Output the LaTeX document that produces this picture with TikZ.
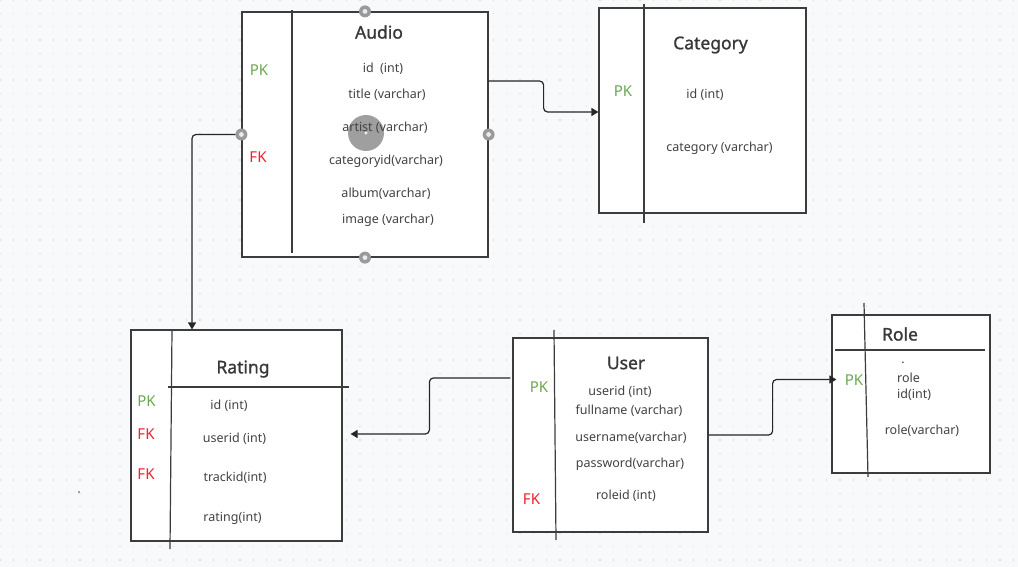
\documentclass[tikz,border=0pt]{standalone}
\usepackage{fontspec}
\setmainfont{Noto Sans}
\newfontfamily\titlefont[FakeBold=1.2]{Noto Sans}
\usepackage{xcolor}
\usetikzlibrary{positioning,arrows.meta}
\definecolor{bgcol}{HTML}{F8F9FB}
\definecolor{dotcol}{HTML}{D9DBE1}
\definecolor{boxline}{HTML}{3C3C3C}
\definecolor{txtcol}{HTML}{424242}
\definecolor{pkgreen}{HTML}{6AA84F}
\definecolor{fkred}{HTML}{F0202D}
\definecolor{handle}{HTML}{9A9A9A}

\begin{document}
\begin{tikzpicture}[x=1pt,y=-1pt]
\tikzstyle{every node}+=[inner sep=0pt]
\tikzstyle{tbl}=[draw=boxline,fill=white,line width=1.2pt,rectangle]
\tikzstyle{divider}=[draw=boxline,line width=1.2pt]
\tikzstyle{title}=[text=txtcol!85!black,font=\titlefont\fontsize{17.5}{20}\selectfont]
\tikzstyle{attr}=[text=txtcol,yshift=-1pt,font=\fontsize{12.5}{16}\selectfont]
\tikzstyle{pk}=[text=pkgreen,font=\fontsize{15}{18}\selectfont]
\tikzstyle{fk}=[text=fkred,font=\fontsize{15}{18}\selectfont]
\tikzstyle{conn}=[draw=black!85,line width=1.2pt,rounded corners=4pt,-{Triangle[length=7pt,width=8pt]}]
\tikzstyle{griddot}=[fill=dotcol]
\tikzstyle{hdl}=[fill=handle]
\useasboundingbox (0,0) rectangle (1018,567);
\fill[bgcol] (0,0) rectangle (1018,567);
\foreach \i in {0,...,76}
  \foreach \j in {0,...,42}
    \fill[griddot] (\i*13.333-0.8,\j*13.333-0.8) rectangle ++(1.6,1.6);
\fill[black!70] (79,492) circle (0.9);
\node[tbl,minimum width=246pt,minimum height=245pt] (audio) at (365,134.5) {};
\node[tbl,minimum width=207pt,minimum height=205pt] (category) at (702.5,110.5) {};
\node[tbl,minimum width=211pt,minimum height=211pt] (rating) at (236.5,435.5) {};
\node[tbl,minimum width=195pt,minimum height=194pt] (user) at (610.5,435) {};
\node[tbl,minimum width=158pt,minimum height=158pt] (role) at (911,394) {};
\draw[divider] (292,10) -- (292,253);
\draw[divider] (644,4) -- (644,223);
\draw[divider] (172,330) -- (170,549);
\draw[divider] (168,387) -- (349,387);
\draw[divider] (554,330) -- (556,540);
\draw[divider] (864,303) -- (868,477);
\draw[divider] (835,350) -- (985,350);
\fill[handle!95] (366,133) circle (18);
\fill[white!85!handle] (366,133) circle (1.6);
\node[title] (audiot) at (379,32) {Audio};
\node[pk] (audiopk) at (259,70) {PK};
\node[fk] (audiofk) at (258,157) {FK};
\node[attr] (audioid) at (383,68) {id\ \ (int)};
\node[attr] (audiotitle) at (387,94) {title (varchar)};
\node[attr] (audioartist) at (385,127) {artist (varchar)};
\node[attr] (audiocat) at (386,160) {categoryid(varchar)};
\node[attr] (audioalbum) at (386,193) {album(varchar)};
\node[attr] (audioimage) at (388,219) {image (varchar)};
\node[title] (categoryt) at (710.5,45) {Category};
\node[pk] (categorypk) at (623,91) {PK};
\node[attr] (categoryid) at (705,94) {id (int)};
\node[attr] (categoryname) at (719.5,147) {category (varchar)};
\node[title] (ratingt) at (243,369) {Rating};
\node[pk] (ratingpk) at (146.5,401) {PK};
\node[fk] (ratingfka) at (146,434) {FK};
\node[fk] (ratingfkb) at (146,474) {FK};
\node[attr] (ratingid) at (229,405) {id (int)};
\node[attr] (ratinguser) at (234.5,438) {userid (int)};
\node[attr] (ratingtrack) at (235,477) {trackid(int)};
\node[attr] (ratingval) at (232.5,517) {rating(int)};
\node[title] (usert) at (626,363) {User};
\node[pk] (userpk) at (539,387) {PK};
\node[fk] (userfk) at (531.5,499) {FK};
\node[attr] (userid) at (620,391) {userid (int)};
\node[attr] (userfull) at (629,410) {fullname (varchar)};
\node[attr] (username) at (631,437) {username(varchar)};
\node[attr] (userpass) at (630,463) {password(varchar)};
\node[attr] (userrole) at (626,495) {roleid (int)};
\node[title] (rolet) at (900,334) {Role};
\node[pk] (rolepk) at (854,380) {PK};
\node[attr] (roledot) at (903,362) {.};
\node[attr,align=left,anchor=west] (roleid) at (897,386) {role\\id(int)};
\node[attr] (rolename) at (922,430) {role(varchar)};
\draw[conn] ([yshift=53.5pt]audio.east) -- ++(55,0) |- ([yshift=-1.5pt]category.west);
\draw[conn] (audio.west) -| ([xshift=-44.5pt]rating.north);
\draw[conn] ([xshift=-2pt,yshift=57pt]user.west) -- ++(-81,0) |- ([xshift=8pt,yshift=1.5pt]rating.east);
\draw[conn] (user.east) -- ++(64,0) |- ([xshift=5pt,yshift=14.5pt]role.west);
\foreach \p in {north,west,east,south}{
  \fill[hdl] (audio.\p) circle (6);
  \fill[white!80!handle] (audio.\p) circle (2.4);
}
\end{tikzpicture}
\end{document}
